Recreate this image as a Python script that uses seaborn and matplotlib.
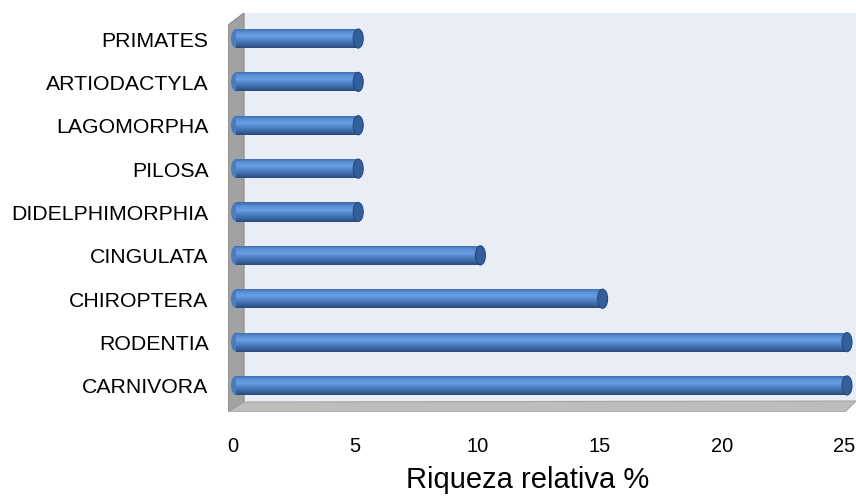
#!/usr/bin/env python3

import numpy as np
import pandas as pd
import matplotlib
matplotlib.use("Agg")
import matplotlib.pyplot as plt
import matplotlib.transforms as mtransforms
from matplotlib.colors import LinearSegmentedColormap
from matplotlib.patches import Polygon, Rectangle, Ellipse
import seaborn as sns

ordens = ["PRIMATES", "ARTIODACTYLA", "LAGOMORPHA", "PILOSA", "DIDELPHIMORPHIA",
          "CINGULATA", "CHIROPTERA", "RODENTIA", "CARNIVORA"]
riqueza = [5, 5, 5, 5, 5, 10, 15, 25, 25]
xticks = [0, 5, 10, 15, 20, 25]

df = pd.DataFrame({"ordem": ordens, "riqueza": riqueza})

sns.set_theme(style="white")
plt.rcParams["font.family"] = ["Liberation Sans", "DejaVu Sans"]

W, H = 856, 498
fig = plt.figure(figsize=(W / 100, H / 100), dpi=100)
# caixa dos eixos em pixels: x 228..856, y 13..412
ax = fig.add_axes([228 / W, (H - 412) / H, 628 / W, 399 / H])
ax.set_facecolor("none")

sns.barplot(data=df, x="riqueza", y="ordem", orient="h", color="#4f81bd",
            width=0.44, ax=ax, zorder=3)

px_unit = (844 - 233) / 25


def fx(px):
    return (px - 228) / 628


def fy(py):
    return (412 - py) / 399


# paredes 3D
ax.add_patch(Rectangle((fx(244), fy(402)), 1 - fx(244), fy(13) - fy(402),
                       transform=ax.transAxes, facecolor="#e9edf6",
                       edgecolor="none", zorder=0))
ax.add_patch(Polygon([(fx(228), fy(25)), (fx(244), fy(13)), (fx(244), fy(402)),
                      (fx(228), fy(412))], closed=True, transform=ax.transAxes,
                     facecolor="#a2a2a2", edgecolor="#8a8a8a", lw=0.8, zorder=1))
ax.add_patch(Polygon([(fx(228), fy(412)), (fx(244), fy(402)), (fx(856), fy(401)),
                      (fx(845), fy(412))], closed=True, transform=ax.transAxes,
                     facecolor="#bdbdbd", edgecolor="#a5a5a5", lw=0.8, zorder=1))

# sombreamento cilindrico
cmap = LinearSegmentedColormap.from_list(
    "cyl", ["#3a67a4", "#5a8ed6", "#6a9fe4", "#4f82c6", "#3d69a6", "#284a7a"])
grad = np.linspace(0, 1, 64).reshape(-1, 1)
shift = mtransforms.ScaledTranslation(3 / 100, 0.5 / 100, fig.dpi_scale_trans)
trans = ax.transData + shift
cap_w = 10 / px_unit

for p in list(ax.patches):
    if not isinstance(p, Rectangle) or p.get_zorder() != 3:
        continue
    x0, y0 = p.get_x(), p.get_y()
    w, h = p.get_width(), p.get_height()
    yc = y0 + h / 2
    p.set_transform(trans)
    p.set_edgecolor("none")
    ax.add_patch(Ellipse((x0, yc), cap_w, h, transform=trans, facecolor="#4a7cc0",
                         edgecolor="none", zorder=2.9))
    im = ax.imshow(grad, cmap=cmap, aspect="auto", interpolation="bilinear",
                   extent=[x0, x0 + w, y0 + h, y0], zorder=3.1)
    im.set_transform(trans)
    im.set_clip_path(p)
    ax.add_patch(Ellipse((x0 + w, yc), cap_w, h, transform=trans,
                         facecolor="#335f9c", edgecolor="#27497a", lw=0.8,
                         zorder=3.2))

ax.set_xlim(-(233 - 228) / px_unit, 25 + (856 - 844) / px_unit)
ax.set_ylim(8.6, -0.6)

for s in ax.spines.values():
    s.set_visible(False)
ax.set_xticks(xticks)
ax.tick_params(axis="x", length=0, pad=18, labelsize=14.5, labelcolor="black")
ax.tick_params(axis="y", length=0, pad=14, labelsize=15.3, labelcolor="black")
ax.set_ylabel("")
ax.set_xlabel("Riqueza relativa %", fontsize=21, color="black")
ax.xaxis.set_label_coords(fx(528), fy(466))

plt.savefig("out.png", dpi=100)
plt.close()
